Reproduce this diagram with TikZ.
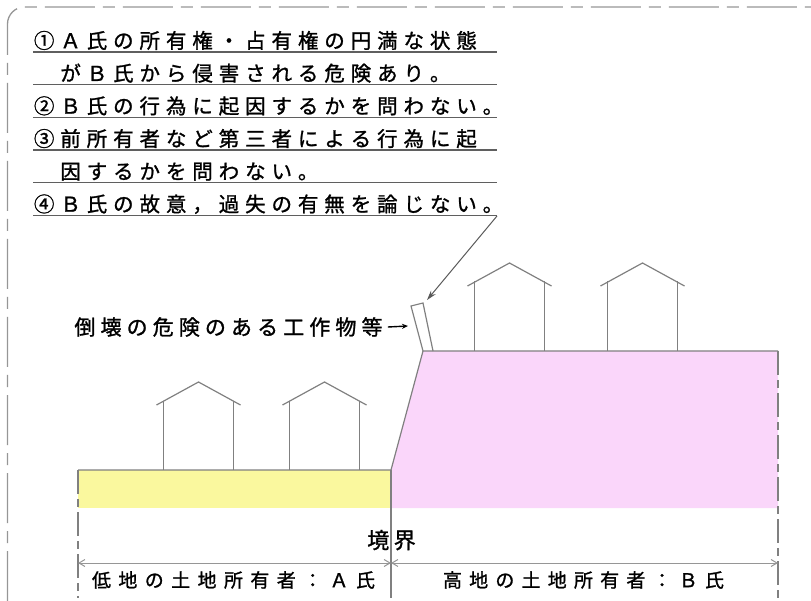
\documentclass[tikz,border=0pt]{standalone}
\usepackage{fontspec}
\newfontfamily\jp[FakeBold=1.2]{Noto Sans CJK JP}
\usetikzlibrary{arrows.meta}

\definecolor{lowland}{RGB}{250,248,158}
\definecolor{highland}{RGB}{250,214,250}
\definecolor{edgegray}{RGB}{128,128,128}
\definecolor{framegray}{RGB}{150,150,150}
\definecolor{rulegray}{RGB}{95,95,95}

% set a string with a fixed pitch per character
\makeatletter
\newlength\spread@w
\newcommand\spreadtext[2]{\setlength\spread@w{#1}\spread@loop#2\spread@stop}
\def\spread@stop{\spread@stop}
\def\spread@loop#1{\ifx#1\spread@stop\else\makebox[\spread@w][c]{#1}\expandafter\spread@loop\fi}
\makeatother

\begin{document}
\begin{tikzpicture}[x=1pt,y=-1pt,
  outline/.style={draw=edgegray,line width=1.2pt},
  propline/.style={draw=edgegray,line width=1.2pt,dash pattern=on 24pt off 5pt on 8pt off 5pt},
  framedash/.style={draw=framegray,line width=1.3pt,dash pattern=on 50pt off 8pt on 12pt off 8pt,rounded corners=17pt},
  note/.style={font=\jp\fontsize{20.5}{24}\selectfont,inner sep=0pt,anchor=west,text height=18pt,text depth=2.5pt},
  label/.style={font=\jp\fontsize{19}{22}\selectfont,inner sep=0pt,text height=16.7pt,text depth=2.3pt},
  biglabel/.style={font=\jp\fontsize{21}{24}\selectfont,inner sep=0pt,text height=18.5pt,text depth=2.5pt},
  underl/.style={draw=rulegray,line width=1.2pt},
  dimline/.style={draw=framegray,line width=1pt},
  barb/.tip={Straight Barb[length=6pt,width=7pt]},
  house/.pic={
    \draw[outline] (-42,-65) -- (0,-88) -- (42,-65);
    \draw[outline] (-35,-69.5) -- (-35,0) (35,-69.5) -- (35,0);
  }
]
\useasboundingbox (0,0) rectangle (811,601);

% outer frame
\draw[framedash] (7.5,601) -- (7.5,7) -- (811,7);

% notes with underlines
\foreach \i in {0,...,5}
  \draw[underl] (33,52+32.7*\i) -- (497,52+32.7*\i);
\node[note] (n1) at (30.8,40.5) {\spreadtext{26.4pt}{①Ａ氏の所有権・占有権の円満な状態}};
\node[note] (n2) at (57.2,73.2) {\spreadtext{26.4pt}{がＢ氏から侵害される危険あり。}};
\node[note] (n3) at (30.8,105.9) {\spreadtext{26.4pt}{②Ｂ氏の行為に起因するかを問わない。}};
\node[note] (n4) at (30.8,138.6) {\spreadtext{26.4pt}{③前所有者など第三者による行為に起}};
\node[note] (n5) at (57.2,171.3) {\spreadtext{26.4pt}{因するかを問わない。}};
\node[note] (n6) at (30.8,204) {\spreadtext{26.4pt}{④Ｂ氏の故意，過失の有無を論じない。}};

% ground areas
\fill[lowland] (78,470) rectangle (391,508);
\fill[highland] (423,351) -- (778,351) -- (778,508) -- (391,508) -- (391,470) -- cycle;
\draw[outline] (78,470) -- (391,470) -- (423,351) -- (778,351);
\draw[outline] (391,470) -- (391,598);
\draw[propline] (78,470) -- (78,598);
\draw[propline] (778,351) -- (778,598);

% houses
\pic at (198.5,470) {house};
\pic at (324.5,470) {house};
\pic at (509.5,351) {house};
\pic at (642.5,351) {house};

% structure at risk of collapse
\draw[outline] (423,351) -- (411,306) -- (423,303) -- (433,351);
\coordinate (posttop) at (427,300);
\coordinate (postside) at (408,326);
\coordinate (noteend) at (497,216);

\node[biglabel] (hazard) at (228.5,327) {\spreadtext{26.1pt}{倒壊の危険のある工作物等}};
\draw[line width=1.4pt,-{Stealth[length=6pt,width=5pt]}] (hazard.east) ++(2.5,0) -- (postside);
\draw[draw=black!65,line width=1pt,-{Stealth[length=10pt,width=6pt]}] (noteend) -- (posttop);

% boundary and owners
\node[biglabel,font=\jp\fontsize{22}{24}\selectfont,text height=19.4pt,text depth=2.6pt] (kyokai) at (391.5,540) {\spreadtext{26.5pt}{境界}};
\coordinate (dimL) at (78,563);
\coordinate (dimM) at (391,563);
\coordinate (dimR) at (778,563);
\draw[dimline,barb-barb] (dimL) -- (dimM);
\draw[dimline,barb-barb] (dimM) -- (dimR);
\node[label] (ownerA) at (233.5,580) {\spreadtext{26.4pt}{低地の土地所有者：Ａ氏}};
\node[label] (ownerB) at (583.5,580) {\spreadtext{26.2pt}{高地の土地所有者：Ｂ氏}};
\end{tikzpicture}
\end{document}
